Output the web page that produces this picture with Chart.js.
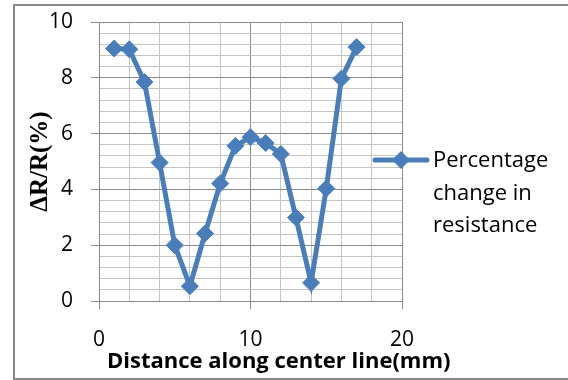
<!DOCTYPE html>
<html>
<head>
<meta charset="utf-8">
<script src="https://cdn.jsdelivr.net/npm/chart.js@4/dist/chart.umd.min.js"></script>
<style>
  html, body { margin: 0; padding: 0; background: #fff; }
  #wrap { width: 568px; height: 380px; position: relative; }
</style>
</head>
<body>
<div id="wrap"><canvas id="chart"></canvas></div>
<script>
// distance along the center line (mm) and measured resistance change (%)
const distances = [1, 2, 3, 4, 5, 6, 7, 8, 9, 10, 11, 12, 13, 14, 15, 16, 17];
const resistanceChange = [9.05, 9.02, 7.85, 4.96, 2.0, 0.53, 2.42, 4.21, 5.56, 5.87, 5.66, 5.27, 2.99, 0.65, 4.03, 7.97, 9.1];
const seriesName = ['Percentage', 'change in', 'resistance'];
const xTitle = 'Distance along center line(mm)';
const yTitle = 'ΔR/R(%)';

const lineBlue = '#4a7ebb';
const majorGrid = '#8a8a8a';
const minorGrid = '#c4c4c4';
const textFont = 'Open Sans';

function onStep(v, step) {
    return Math.abs(v / step - Math.round(v / step)) < 1e-6;
}

// frame around the chart, the side legend and the x axis title
const decorations = {
    id: 'decorations',
    afterDraw(chart) {
        const ctx = chart.ctx;
        ctx.save();

        ctx.strokeStyle = '#868686';
        ctx.lineWidth = 2;
        ctx.strokeRect(14, 5, 600, 374);

        // legend entry
        const ly = 160;
        ctx.strokeStyle = lineBlue;
        ctx.lineWidth = 5;
        ctx.lineCap = 'round';
        ctx.beginPath();
        ctx.moveTo(375, ly);
        ctx.lineTo(427, ly);
        ctx.stroke();
        ctx.fillStyle = lineBlue;
        ctx.beginPath();
        ctx.moveTo(401 - 9, ly);
        ctx.lineTo(401, ly - 9);
        ctx.lineTo(401 + 9, ly);
        ctx.lineTo(401, ly + 9);
        ctx.closePath();
        ctx.fill();

        ctx.fillStyle = '#000';
        ctx.font = '22px "' + textFont + '"';
        ctx.textAlign = 'left';
        ctx.textBaseline = 'alphabetic';
        const baselines = [167, 200, 232];
        seriesName.forEach((t, i) => ctx.fillText(t, 433, baselines[i]));

        ctx.font = 'bold 22px "' + textFont + '"';
        ctx.fillText(xTitle, 107, 368);

        ctx.restore();
    }
};

new Chart(document.getElementById('chart'), {
    type: 'line',
    data: {
        datasets: [{
            label: seriesName.join(' '),
            data: distances.map((d, i) => ({ x: d, y: resistanceChange[i] })),
            borderColor: lineBlue,
            backgroundColor: lineBlue,
            borderWidth: 5,
            pointStyle: 'rectRot',
            pointRadius: 8.5,
            pointBorderWidth: 1,
            tension: 0
        }]
    },
    options: {
        responsive: true,
        maintainAspectRatio: false,
        animation: false,
        layout: { padding: { top: 22, right: 166, left: 0, bottom: 0 } },
        plugins: {
            legend: { display: false },
            tooltip: { enabled: false }
        },
        scales: {
            x: {
                type: 'linear',
                min: 0,
                max: 20,
                afterFit: s => {
                    s.height = 79;
                    s.paddingLeft = 0;
                    s.paddingRight = 0;
                },
                ticks: {
                    stepSize: 2,
                    autoSkip: false,
                    maxRotation: 0,
                    padding: 18,
                    color: '#000',
                    font: { family: textFont, size: 21 },
                    callback: v => (onStep(v, 10) ? v : '')
                },
                grid: {
                    color: c => (onStep(c.tick.value, 10) ? majorGrid : minorGrid),
                    tickColor: c => (onStep(c.tick.value, 10) ? majorGrid : 'rgba(0,0,0,0)'),
                    tickLength: 8
                },
                border: { color: majorGrid }
            },
            y: {
                min: 0,
                max: 10,
                afterFit: s => {
                    s.width = 99;
                    s.paddingTop = 0;
                    s.paddingBottom = 0;
                },
                ticks: {
                    stepSize: 0.4,
                    autoSkip: false,
                    padding: 18,
                    color: '#000',
                    font: { family: textFont, size: 21 },
                    callback: v => (onStep(v, 2) ? Math.round(v) : '')
                },
                grid: {
                    color: c => (onStep(c.tick.value, 2) ? majorGrid : minorGrid),
                    tickColor: c => (onStep(c.tick.value, 2) ? majorGrid : 'rgba(0,0,0,0)'),
                    tickLength: 8
                },
                border: { color: majorGrid },
                title: {
                    display: true,
                    text: yTitle,
                    color: '#000',
                    font: { family: 'Liberation Serif', size: 25, weight: 'bold' },
                    padding: { top: 26 }
                }
            }
        }
    },
    plugins: [decorations]
});
</script>
</body>
</html>
